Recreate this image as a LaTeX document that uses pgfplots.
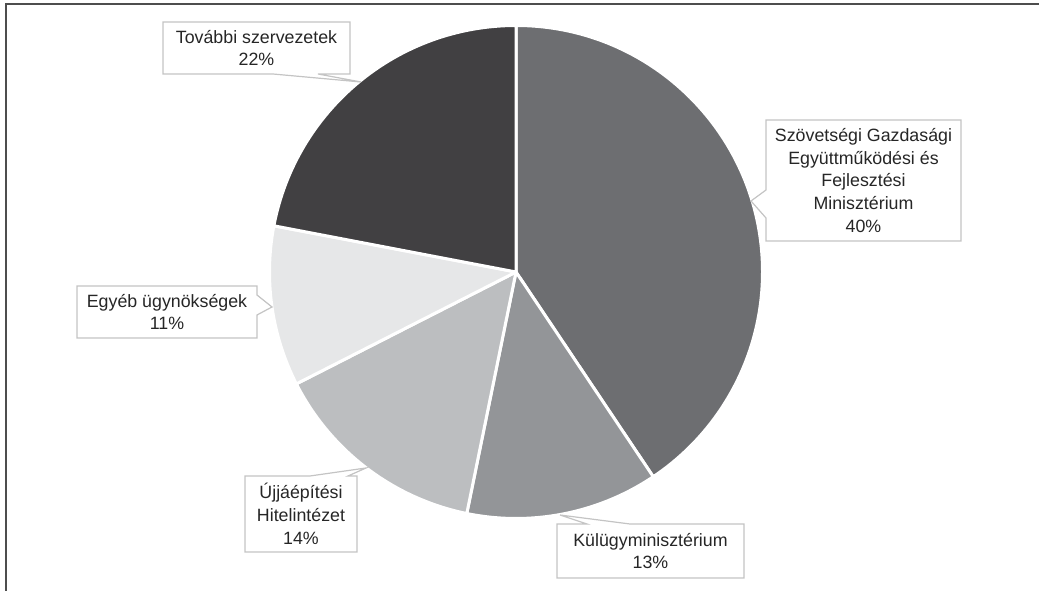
\documentclass[border=0pt]{standalone}
\usepackage{pgfplots}
\pgfplotsset{compat=1.18}
\usepackage{pgfplotstable}
\usepackage{fontspec}
\setmainfont{Liberation Sans}
\definecolor{s1}{HTML}{6D6E71}
\definecolor{s2}{HTML}{939598}
\definecolor{s3}{HTML}{BCBEC0}
\definecolor{s4}{HTML}{E6E7E8}
\definecolor{s5}{HTML}{414042}
\definecolor{boxgray}{HTML}{C4C4C4}
\definecolor{txt}{HTML}{262626}
\definecolor{frame}{HTML}{4D4D4D}

\pgfplotstableread{
share color
40.6 s1
12.6 s2
14.3 s3
10.5 s4
22.0 s5
}\piedata

\begin{document}
\begin{tikzpicture}
\useasboundingbox (0,0) rectangle (1039pt,591pt);
\begin{axis}[at={(0,0)}, anchor=south west, scale only axis,
  width=1039pt, height=591pt, xmin=0, xmax=1039, ymin=0, ymax=591,
  hide axis, clip=false]
\pgfplotsextra{
  \xdef\angA{90}
  \pgfplotstablegetrowsof{\piedata}
  \pgfmathtruncatemacro\nrows{\pgfplotsretval-1}
  \foreach \i in {0,...,\nrows}{
    \pgfplotstablegetelem{\i}{share}\of\piedata \let\sv\pgfplotsretval
    \pgfplotstablegetelem{\i}{color}\of\piedata \let\slicecol\pgfplotsretval
    \pgfmathsetmacro\angB{\angA-3.6*\sv}
    \fill[fill=\slicecol, draw=white, line width=3pt, line join=round]
      (axis cs:516,319) -- ++(\angA:246.5pt)
      arc[start angle=\angA, end angle=\angB, radius=246.5pt] -- cycle;
    \xdef\angA{\angB}
  }
  \tikzset{cbox/.style={fill=white, draw=boxgray, line width=1.2pt, line join=miter}}
  \tikzset{ctext/.style={text=txt, align=center, font=\fontsize{17.8}{22.7}\selectfont, inner sep=0pt}}
  % Box 1: Tovabbi szervezetek
  \filldraw[cbox] (axis cs:163,569) -- (axis cs:350,569) -- (axis cs:350,517) -- (axis cs:318,517)
    -- (axis cs:361,509) -- (axis cs:273,517) -- (axis cs:163,517) -- cycle;
  \node[ctext] at (axis cs:256.5,543) {További szervezetek\\22\%};
  % Box 2
  \filldraw[cbox] (axis cs:766,471) -- (axis cs:961,471) -- (axis cs:961,350) -- (axis cs:766,350)
    -- (axis cs:766,373) -- (axis cs:751,390) -- (axis cs:766,401) -- cycle;
  \node[ctext] at (axis cs:863.5,410.5) {Szövetségi Gazdasági\\Együttműködési és\\Fejlesztési\\Minisztérium\\40\%};
  % Box 3
  \filldraw[cbox] (axis cs:77,305) -- (axis cs:257,305) -- (axis cs:257,296) -- (axis cs:272,284)
    -- (axis cs:257,276) -- (axis cs:257,253) -- (axis cs:77,253) -- cycle;
  \node[ctext] at (axis cs:167,279) {Egyéb ügynökségek\\11\%};
  % Box 4
  \filldraw[cbox] (axis cs:245,115) -- (axis cs:310,115) -- (axis cs:366,123) -- (axis cs:348,115)
    -- (axis cs:357,115) -- (axis cs:357,39) -- (axis cs:245,39) -- cycle;
  \node[ctext] at (axis cs:301,77) {Újjáépítési\\Hitelintézet\\14\%};
  % Box 5
  \filldraw[cbox] (axis cs:557,67) -- (axis cs:587,67) -- (axis cs:560,76) -- (axis cs:630,67)
    -- (axis cs:744,67) -- (axis cs:744,13) -- (axis cs:557,13) -- cycle;
  \node[ctext] at (axis cs:650.5,40) {Külügyminisztérium\\13\%};
}
\end{axis}
\draw[frame, line width=1.8pt] (5.6pt,0) -- (5.6pt,587pt) -- (1039pt,587pt);
\end{tikzpicture}
\end{document}
